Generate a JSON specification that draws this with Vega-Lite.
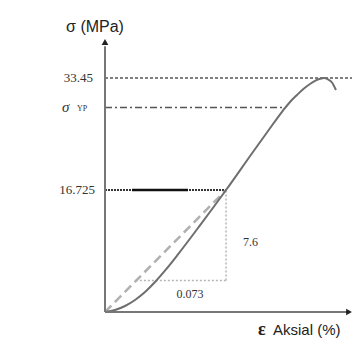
{
  "$schema": "https://vega.github.io/schema/vega-lite/v6.json",
  "width": 247,
  "height": 272,
  "autosize": {"type": "none"},
  "padding": {"left": 105, "top": 40, "right": 7, "bottom": 30},
  "background": "white",
  "config": {"view": {"stroke": null}},
  "encoding": {
    "x": {"field": "x", "type": "quantitative", "scale": {"domain": [0, 0.2], "nice": false, "zero": false}, "axis": null},
    "y": {"field": "y", "type": "quantitative", "scale": {"type": "pow", "exponent": 0.94, "domain": [0, 39.26], "nice": false, "zero": false}, "axis": null}
  },
  "layer": [
    {
      "data": {"values": [{"x": 0, "x2": 0.2, "y": 33.45}]},
      "mark": {"type": "rule", "color": "#555555", "strokeWidth": 1.5, "strokeDash": [3, 2]},
      "encoding": {"x2": {"field": "x2"}}
    },
    {
      "data": {"values": [{"x": 0, "x2": 0.1465, "y": 29.0}]},
      "mark": {"type": "rule", "color": "#555555", "strokeWidth": 1.5, "strokeDash": [7, 3, 2, 3]},
      "encoding": {"x2": {"field": "x2"}}
    },
    {
      "data": {"values": [{"x": 0, "x2": 0.098, "y": 16.725}]},
      "mark": {"type": "rule", "color": "#333333", "strokeWidth": 2, "strokeDash": [2, 1]},
      "encoding": {"x2": {"field": "x2"}}
    },
    {
      "data": {"values": [{"x": 0.0219, "x2": 0.0672, "y": 16.725}]},
      "mark": {"type": "rule", "color": "#111111", "strokeWidth": 2.5},
      "encoding": {"x2": {"field": "x2"}}
    },
    {
      "data": {"values": [{"x": 0.098, "y": 3.96, "y2": 16.725}]},
      "mark": {"type": "rule", "color": "#b5b5b5", "strokeWidth": 1.5, "strokeDash": [2, 2]},
      "encoding": {"y2": {"field": "y2"}}
    },
    {
      "data": {"values": [{"x": 0.025, "x2": 0.098, "y": 3.96}]},
      "mark": {"type": "rule", "color": "#b5b5b5", "strokeWidth": 1.5, "strokeDash": [2, 2]},
      "encoding": {"x2": {"field": "x2"}}
    },
    {
      "data": {"values": [{"x": 0, "y": 0}, {"x": 0.098, "y": 16.725}]},
      "mark": {"type": "line", "color": "#b0b0b0", "strokeWidth": 2.5, "strokeDash": [9, 5]},
      "encoding": {}
    },
    {
      "data": {"values": [
        {"x": 0, "y": 0},
        {"x": 0.0081, "y": 0.211},
        {"x": 0.0162, "y": 0.679},
        {"x": 0.0243, "y": 1.419},
        {"x": 0.0324, "y": 2.444},
        {"x": 0.0405, "y": 3.762},
        {"x": 0.0494, "y": 5.463},
        {"x": 0.0591, "y": 7.531},
        {"x": 0.0769, "y": 11.62},
        {"x": 0.098, "y": 16.725},
        {"x": 0.1198, "y": 22.33},
        {"x": 0.132, "y": 25.46},
        {"x": 0.1441, "y": 28.53},
        {"x": 0.1498, "y": 29.82},
        {"x": 0.1555, "y": 30.88},
        {"x": 0.1611, "y": 31.86},
        {"x": 0.166, "y": 32.54},
        {"x": 0.1708, "y": 33.1},
        {"x": 0.1741, "y": 33.33},
        {"x": 0.1773, "y": 33.45},
        {"x": 0.1806, "y": 33.25},
        {"x": 0.1838, "y": 32.77},
        {"x": 0.187, "y": 31.63}
      ]},
      "mark": {"type": "line", "color": "#6e6e6e", "strokeWidth": 2, "interpolate": "monotone"},
      "encoding": {}
    },
    {
      "data": {"values": [{"x": 0, "y": 0, "y2": 38.3}]},
      "mark": {"type": "rule", "color": "#777777", "strokeWidth": 2},
      "encoding": {"y2": {"field": "y2"}}
    },
    {
      "data": {"values": [{"x": 0, "x2": 0.196, "y": 0}]},
      "mark": {"type": "rule", "color": "#777777", "strokeWidth": 2},
      "encoding": {"x2": {"field": "x2"}}
    },
    {
      "data": {"values": [{"x": 0, "y": 38.95, "s": "triangle-up"}, {"x": 0.1976, "y": 0, "s": "triangle-right"}]},
      "mark": {"type": "point", "filled": true, "color": "#222222", "size": 45, "opacity": 1},
      "encoding": {"shape": {"field": "s", "type": "nominal", "scale": null}}
    },
    {
      "data": {"values": [
        {"x": -0.0097, "y": 33.45, "t": "33.45"},
        {"x": -0.0081, "y": 16.725, "t": "16.725"}
      ]},
      "mark": {"type": "text", "align": "right", "baseline": "middle", "font": "Liberation Serif", "fontSize": 13, "color": "#333333"},
      "encoding": {"text": {"field": "t"}}
    },
    {
      "data": {"values": [{"x": -0.0348, "y": 29.0, "t": "σ"}]},
      "mark": {"type": "text", "align": "left", "baseline": "middle", "font": "Liberation Serif", "fontSize": 15, "fontStyle": "italic", "color": "#333333"},
      "encoding": {"text": {"field": "t"}}
    },
    {
      "data": {"values": [{"x": -0.0227, "y": 28.76, "t": "YP"}]},
      "mark": {"type": "text", "align": "left", "baseline": "middle", "font": "Liberation Serif", "fontSize": 8, "color": "#333333"},
      "encoding": {"text": {"field": "t"}}
    },
    {
      "data": {"values": [{"x": 0.1117, "y": 9.27, "t": "7.6"}]},
      "mark": {"type": "text", "align": "left", "baseline": "middle", "font": "Liberation Serif", "fontSize": 12, "color": "#333333"},
      "encoding": {"text": {"field": "t"}}
    },
    {
      "data": {"values": [{"x": 0.0688, "y": 2.185, "t": "0.073"}]},
      "mark": {"type": "text", "align": "center", "baseline": "middle", "font": "Liberation Serif", "fontSize": 12, "color": "#333333"},
      "encoding": {"text": {"field": "t"}}
    },
    {
      "data": {"values": [{"x": -0.0081, "y": 41.27, "t": "σ (MPa)"}]},
      "mark": {"type": "text", "align": "center", "baseline": "middle", "font": "Liberation Sans", "fontSize": 16, "color": "#222222"},
      "encoding": {"text": {"field": "t"}}
    },
    {
      "data": {"values": [{"x": 0.1271, "y": -2.185, "t": "ε"}]},
      "mark": {"type": "text", "align": "center", "baseline": "middle", "font": "Liberation Serif", "fontSize": 18, "fontWeight": "bold", "color": "#222222"},
      "encoding": {"text": {"field": "t"}}
    },
    {
      "data": {"values": [{"x": 0.136, "y": -2.185, "t": "Aksial (%)"}]},
      "mark": {"type": "text", "align": "left", "baseline": "middle", "font": "Liberation Sans", "fontSize": 15, "color": "#222222"},
      "encoding": {"text": {"field": "t"}}
    }
  ]
}
